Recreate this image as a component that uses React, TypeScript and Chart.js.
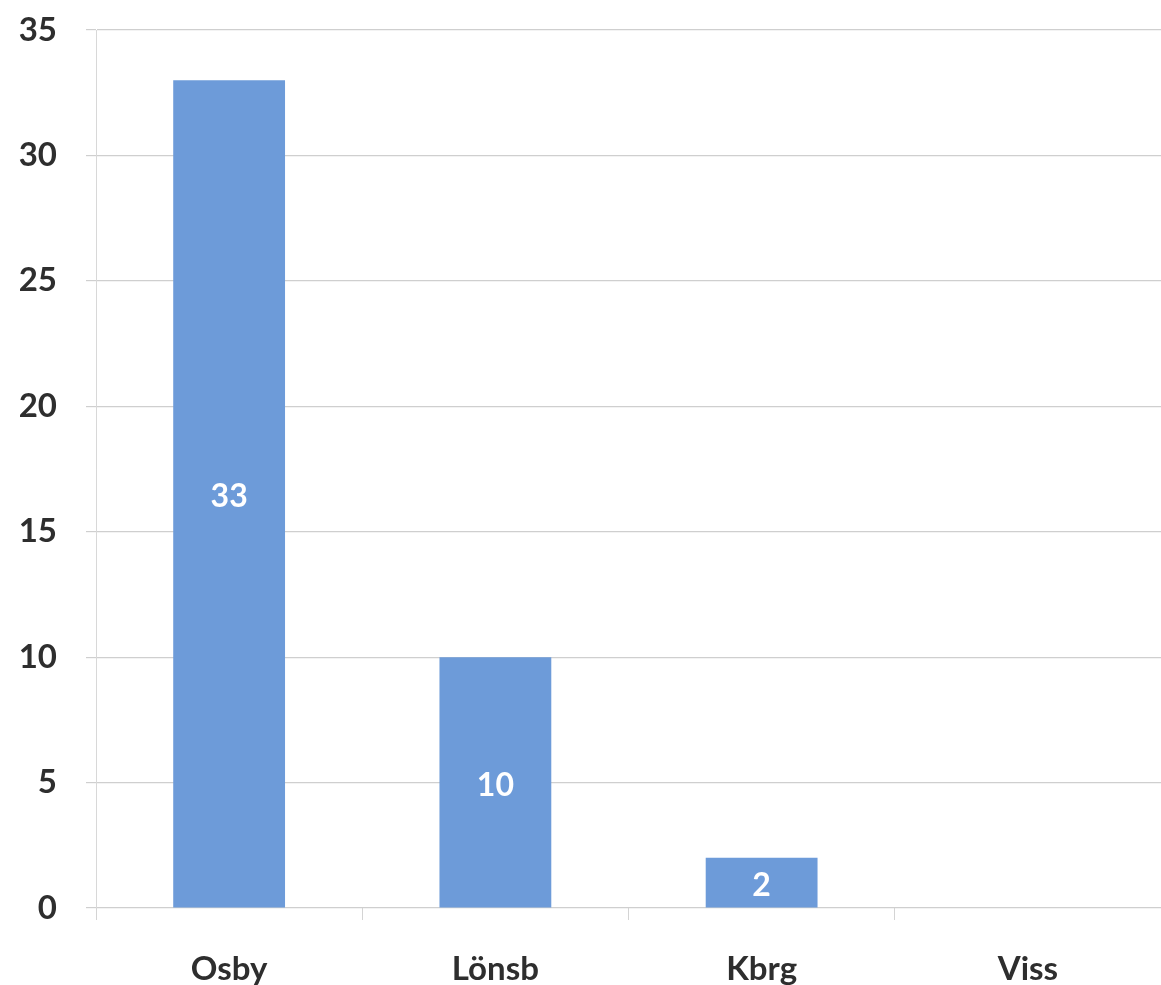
import React, { useEffect, useRef } from "react";
import { Chart, registerables } from "chart.js";

Chart.register(...registerables);

const categories = ["Osby", "Lönsb", "Kbrg", "Viss"];
const counts = [33, 10, 2, 0];
const yMax = 35;
const yStep = 5;

const FONT = "Lato, 'Open Sans', 'DejaVu Sans', sans-serif";

// Writes each bar's value in white at the middle of the bar.
const centreLabels = {
  id: "centreLabels",
  afterDatasetsDraw(chart: any) {
    const { ctx } = chart;
    const meta = chart.getDatasetMeta(0);
    const values = chart.data.datasets[0].data as number[];
    ctx.save();
    ctx.fillStyle = "#ffffff";
    ctx.font = `bold 32px ${FONT}`;
    ctx.textAlign = "center";
    ctx.textBaseline = "middle";
    meta.data.forEach((bar: any, i: number) => {
      const v = values[i];
      if (!v) return;
      const mid = (bar.y + bar.base) / 2;
      ctx.fillText(String(v), bar.x, mid + 3);
    });
    ctx.restore();
  },
};

export default function App() {
  const ref = useRef<HTMLCanvasElement | null>(null);

  useEffect(() => {
    if (!ref.current) return;
    const chart = new Chart(ref.current, {
      type: "bar",
      data: {
        labels: categories,
        datasets: [
          {
            data: counts,
            backgroundColor: "#6d9bd9",
            borderWidth: 0,
            barPercentage: 0.42,
            categoryPercentage: 1,
          },
        ],
      },
      options: {
        responsive: false,
        animation: false,
        layout: { padding: { top: 30, right: 0, left: 0, bottom: 0 } },
        plugins: {
          legend: { display: false },
          tooltip: { enabled: false },
        },
        scales: {
          x: {
            offset: true,
            grid: {
              offset: true,
              drawOnChartArea: false,
              drawTicks: true,
              tickLength: 12,
              color: "#d4d4d4",
            },
            border: { display: false },
            ticks: {
              color: "#2e2e2e",
              padding: 30,
              font: { family: FONT, size: 33, weight: "bold" },
            },
            afterFit: (s: any) => {
              s.height = 77;
            },
          },
          y: {
            min: 0,
            max: yMax,
            ticks: {
              stepSize: yStep,
              color: "#2e2e2e",
              padding: 29,
              font: { family: FONT, size: 33, weight: "bold" },
            },
            grid: {
              color: "#cfcfcf",
              lineWidth: 1.2,
              tickLength: 10,
            },
            border: { display: true, color: "#d8d8d8" },
            afterFit: (s: any) => {
              s.width = 96;
              s.paddingTop = 0;
              s.paddingBottom = 0;
            },
          },
        },
      },
      plugins: [centreLabels],
    });
    return () => chart.destroy();
  }, []);

  return (
    <div
      style={{
        position: "absolute",
        left: 0,
        top: 0,
        width: 1161,
        height: 985,
        background: "#ffffff",
      }}
    >
      <canvas ref={ref} width={1161} height={985} />
    </div>
  );
}
